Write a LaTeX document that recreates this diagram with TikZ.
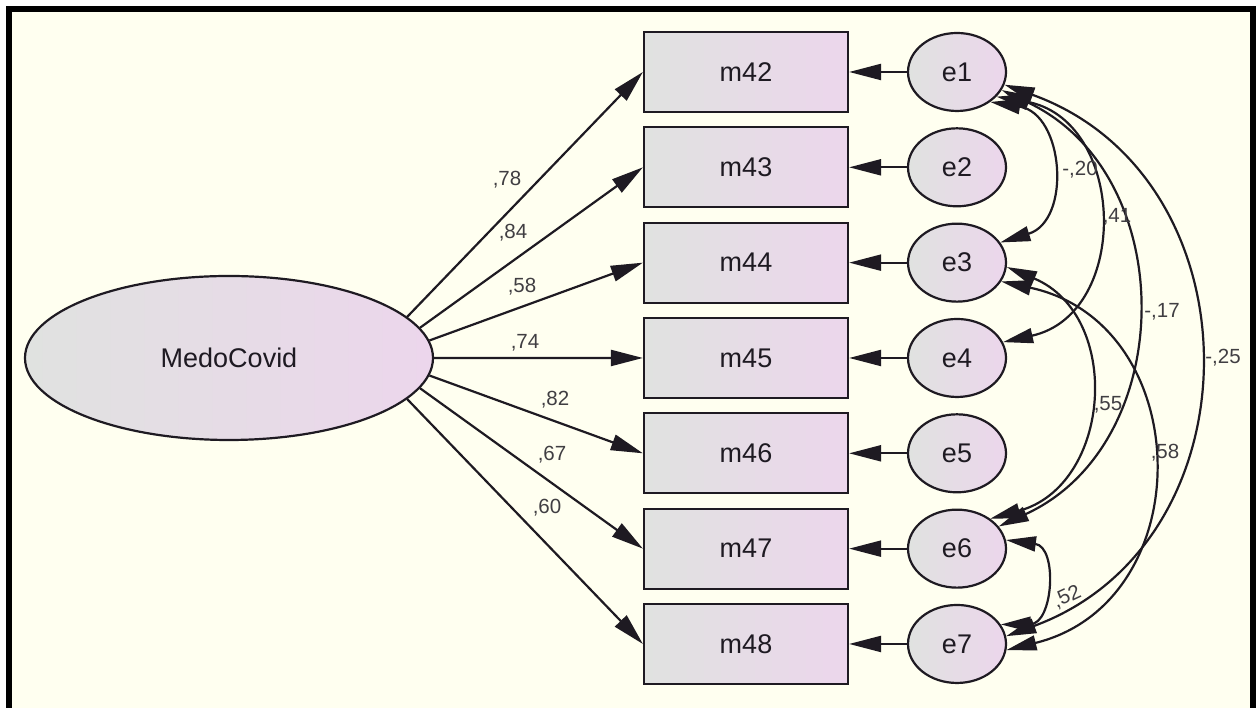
\documentclass[tikz,border=0pt]{standalone}
\usepackage{fontspec}
\setmainfont{Liberation Sans}
\usetikzlibrary{arrows.meta,shapes.geometric}
\definecolor{paper}{RGB}{255,255,240}
\definecolor{boxL}{RGB}{224,226,224}
\definecolor{boxR}{RGB}{236,214,236}
\definecolor{ink}{RGB}{30,26,34}
\definecolor{lblgray}{RGB}{64,62,66}

\begin{document}
\begin{tikzpicture}[x=1pt,y=1pt]
	\tikzstyle{obs}=[rectangle, draw=ink, line width=2.2pt, left color=boxL, right color=boxR, minimum width=204pt, minimum height=80pt, inner sep=0pt, text=ink, font=\fontsize{27}{32}\selectfont]
	\tikzstyle{err}=[ellipse, draw=ink, line width=2.2pt, left color=boxL, right color=boxR, minimum width=98pt, minimum height=78pt, inner sep=0pt, text=ink, font=\fontsize{27}{32}\selectfont]
	\tikzstyle{lat}=[ellipse, draw=ink, line width=2.2pt, left color=boxL, right color=boxR, minimum width=408pt, minimum height=164pt, inner sep=0pt, text=ink, font=\fontsize{27}{32}\selectfont]
	\tikzstyle{reg}=[-{Triangle[length=32pt,width=16pt]}, line width=2.2pt, draw=ink]
	\tikzstyle{cov}=[{Triangle[length=30pt,width=15pt]}-{Triangle[length=30pt,width=15pt]}, line width=2.2pt, draw=ink]
	\tikzstyle{lbl}=[text=lblgray, font=\fontsize{20.5}{24}\selectfont, inner sep=1pt]

	% frame
	\useasboundingbox (0,0) rectangle (1258,708);
	\fill[white] (0,0) rectangle (1258,708);
	\fill[black] (6,0) rectangle (1256,702);
	\fill[paper] (12,0) rectangle (1250,696);

	\node[lat] (medo) at (229,350) {MedoCovid};

	\foreach \i/\n/\k in {0/42/1,1/43/2,2/44/3,3/45/4,4/46/5,5/47/6,6/48/7}
	{
		\node[obs] (m\n) at (746,{636-95.33*\i}) {m\n};
		\node[err] (e\k) at (957,{636-95.33*\i}) {e\k};
		\draw[reg] (e\k) -- (m\n);
	}

	% loadings
	\foreach \n/\a/\v/\lx/\ly in {42/13/78/507/528,43/9/84/513/475,44/5/58/522/421,45/0/74/525/365,46/-5/82/555/308,47/-9/67/552/253,48/-13/60/547/200}
	{
		\draw[reg] (medo.\a) -- (m\n.west);
		\node[lbl] (l\n) at (\lx,\ly) {,\v};
	}

	% covariances
	\draw[cov] (e1.-42) to[bend left=77, looseness=1.36] (e3.25);
	\draw[cov] (e1.-32) to[bend left=79, looseness=1.37] (e4.19);
	\draw[cov] (e1.-22) to[bend left=65, looseness=1.16] (e6.28);
	\draw[cov] (e1.-15) to[bend left=70, looseness=1.26] (e7.9);
	\draw[cov] (e3.-5) to[bend left=71, looseness=1.28] (e6.42);
	\draw[cov] (e3.-23) to[bend left=77, looseness=1.39] (e7.-7);
	\draw[cov] (e6.10) to[bend left=86, looseness=1.59] (e7.24);

	\node[lbl] (c13) at (1080,538) {-,20};
	\node[lbl] (c14) at (1117,491) {,41};
	\node[lbl] (c16) at (1162,396) {-,17};
	\node[lbl] (c17) at (1223,350) {-,25};
	\node[lbl] (c36) at (1108,303) {,55};
	\node[lbl] (c37) at (1165,255) {,58};
	\node[lbl, rotate=25] (c67) at (1067,111) {,52};
\end{tikzpicture}
\end{document}
